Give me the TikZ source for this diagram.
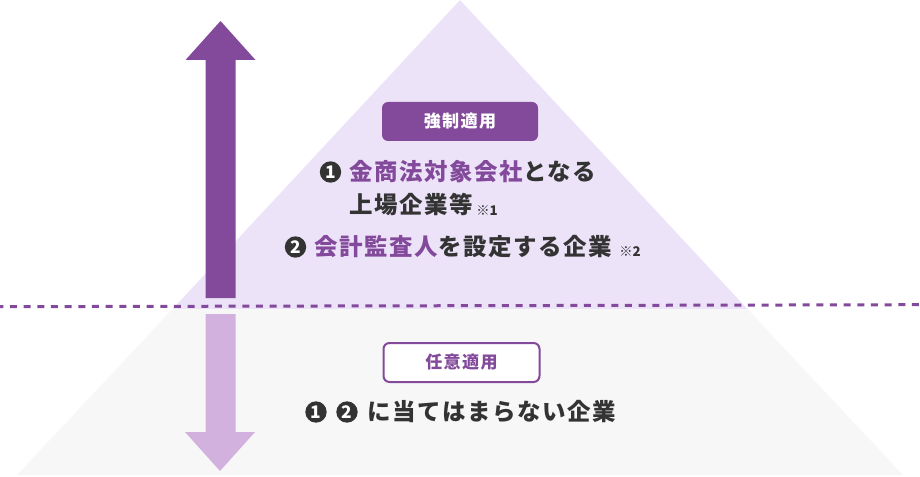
\documentclass[tikz,border=0pt]{standalone}
\usepackage{fontspec}
\setmainfont{Noto Sans CJK JP}
\definecolor{purp}{HTML}{834A9B}
\definecolor{lpurp}{HTML}{D3B1DE}
\definecolor{lav}{HTML}{ECE3F9}
\definecolor{lgrey}{HTML}{F7F7F7}
\definecolor{dark}{HTML}{333333}
\tikzset{
  body/.style={anchor=west, inner sep=0pt, text=dark,
    font=\fontsize{17.6}{21}\selectfont\bfseries\addfontfeature{LetterSpace=7}},
  note/.style={anchor=west, inner sep=0pt, text=dark,
    font=\fontsize{10}{11}\selectfont\bfseries},
  numdot/.style={circle, fill=dark, text=white, inner sep=0pt, minimum size=16pt,
    font=\fontsize{13}{14}\selectfont\bfseries},
  tagbox/.style={rounded corners=4.5pt, minimum width=117pt, minimum height=29.25pt, inner sep=0pt,
    font=\fontsize{12.8}{14}\selectfont\bfseries\addfontfeature{LetterSpace=8}},
}
\begin{document}
\begin{tikzpicture}[x=0.75pt,y=-0.75pt]
\useasboundingbox (0,0) rectangle (920,477);
% pyramid
\fill[lav] (460,0) -- (747.4,309) -- (172.6,309) -- cycle;
\fill[lgrey] (172.6,309) -- (747.4,309) -- (903,475) -- (17,475) -- cycle;
% arrows
\fill[purp] (205.5,298) -- (205.5,60) -- (185.5,60) -- (220.5,21) -- (255.5,60) -- (235.5,60) -- (235.5,298) -- cycle;
\fill[lpurp] (205.5,314) -- (205.5,432) -- (185,432) -- (220,471) -- (255,432) -- (235.5,432) -- (235.5,314) -- cycle;
% dotted divider
\coordinate (dl) at (0,306.7);
\coordinate (dr) at (920,304.7);
\draw[purp, line width=2.25pt, dash pattern=on 5.25pt off 5pt, dash phase=2.8pt] (dl) -- (dr);
% tags
\node[tagbox, fill=purp, text=white] (tag1) at (460,121.5) {強制適用};
\node[tagbox, fill=white, draw=purp, line width=1.5pt, text=purp] (tag2) at (461.5,362.5) {任意適用};
% upper text
\node[numdot] (n1) at (330.5,172) {1};
\node[body] (l1) at (349,172) {{\color{purp}金商法対象会社}となる};
\node[body] (l2) at (349,205) {上場企業等};
\node[note] (r1) at (476,211) {※1};
\node[numdot] (n2) at (295.5,247) {2};
\node[body] (l3) at (314,247) {{\color{purp}会計監査人}を設定する企業};
\node[note] (r2) at (619,252) {※2};
% lower text
\node[numdot] (m1) at (316,412) {1};
\node[numdot] (m2) at (347,412) {2};
\node[body] (l4) at (367,412) {に当てはまらない企業};
\end{tikzpicture}
\end{document}
